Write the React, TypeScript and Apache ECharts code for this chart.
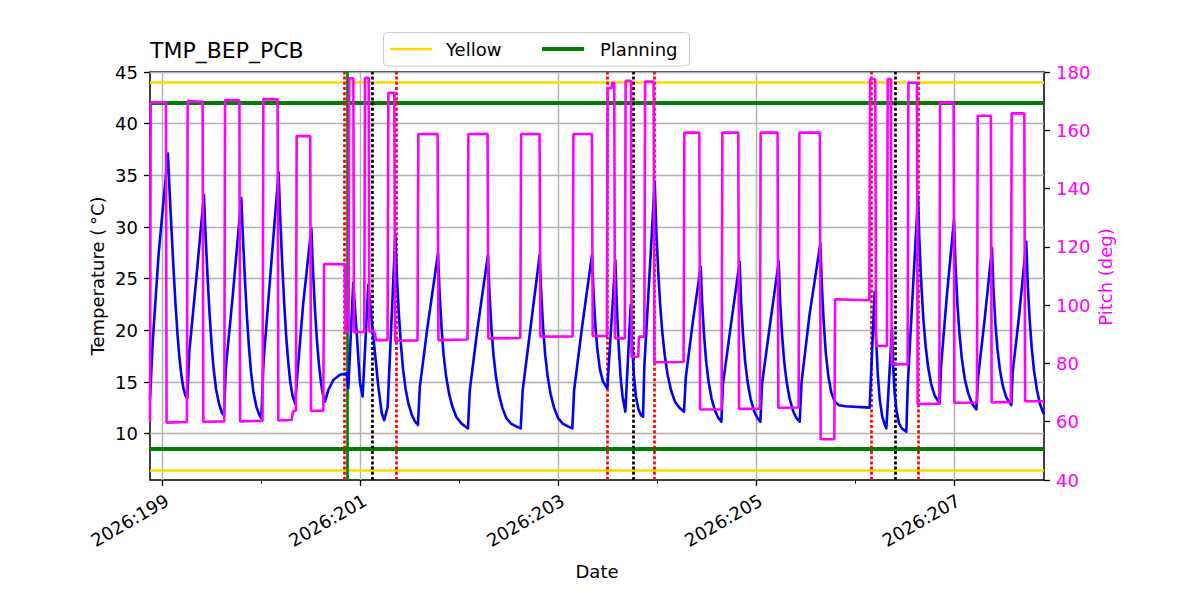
import React, { useEffect, useRef } from "react";
import * as echarts from "echarts";

// ---- axis ranges (day-of-year 2026, fractional) ----
const X_MIN = 198.872;
const X_MAX = 207.911;
const majorDays = [199, 201, 203, 205, 207];
const minorDays = [200, 202, 204, 206];
const TEMP_MIN = 5.52;
const TEMP_MAX = 45;
const tempTicks = [10, 15, 20, 25, 30, 35, 40, 45];
const PITCH_MIN = 40;
const PITCH_MAX = 180;
const PITCH_STEP = 20;

// ---- limits (deg C) ----
const yellowLimits = [44, 6.5];
const planningLimits = [42, 8.5];

// ---- event markers (day-of-year) ----
const redEvents = [200.836, 201.362, 203.495, 203.971, 206.155, 206.64];
const blackEvents = [201.119, 203.758, 206.408];
const greenEvents = [200.874];

// ---- TMP_BEP_PCB temperature (deg C), one row per heating / cooling leg ----
const tempDay = [
  198.872, 198.9, 198.96, 199.053,
  199.07, 199.09, 199.11, 199.13, 199.15, 199.17, 199.19, 199.21, 199.23, 199.249,
  199.27, 199.34, 199.417,
  199.435, 199.455, 199.475, 199.495, 199.515, 199.54, 199.57, 199.6, 199.619,
  199.64, 199.71, 199.795,
  199.813, 199.833, 199.853, 199.873, 199.893, 199.918, 199.948, 199.978, 199.997,
  200.02, 200.09, 200.172,
  200.19, 200.21, 200.23, 200.25, 200.27, 200.29, 200.315, 200.34,
  200.36, 200.42, 200.503,
  200.52, 200.54, 200.56, 200.58, 200.6, 200.62, 200.641,
  200.674, 200.725, 200.793, 200.86, 200.877, 200.927, 200.962, 200.995, 201.022, 201.079,
  201.13, 201.18, 201.215, 201.24, 201.275, 201.352,
  201.37, 201.39, 201.41, 201.43, 201.455, 201.485, 201.52, 201.55, 201.581,
  201.6, 201.68, 201.784,
  201.8, 201.82, 201.84, 201.865, 201.895, 201.93, 201.97, 202.02, 202.06, 202.087,
  202.105, 202.185, 202.289,
  202.305, 202.325, 202.345, 202.37, 202.4, 202.435, 202.475, 202.525, 202.575, 202.62,
  202.64, 202.72, 202.812,
  202.828, 202.848, 202.868, 202.893, 202.923, 202.958, 202.998, 203.048, 203.098, 203.142,
  203.16, 203.24, 203.341,
  203.357, 203.377, 203.397, 203.42, 203.45, 203.48, 203.496,
  203.577, 203.59, 203.61, 203.63, 203.65, 203.678,
  203.732, 203.745, 203.765, 203.785, 203.81, 203.835, 203.857,
  203.87, 203.92, 203.975,
  203.99, 204.01, 204.03, 204.05, 204.075, 204.105, 204.14, 204.18, 204.225, 204.271,
  204.29, 204.36, 204.44,
  204.455, 204.475, 204.495, 204.52, 204.55, 204.585, 204.62, 204.649,
  204.665, 204.745, 204.834,
  204.849, 204.869, 204.889, 204.914, 204.944, 204.979, 205.014, 205.043,
  205.06, 205.14, 205.229,
  205.244, 205.264, 205.284, 205.309, 205.339, 205.374, 205.409, 205.441,
  205.46, 205.54, 205.65,
  205.665, 205.685, 205.705, 205.73, 205.76, 205.795, 205.84, 205.9, 206.148,
  206.199, 206.212, 206.23, 206.25, 206.275, 206.3, 206.317,
  206.374, 206.385, 206.4, 206.42, 206.445, 206.475, 206.519,
  206.535, 206.58, 206.637,
  206.652, 206.672, 206.692, 206.715, 206.74, 206.77, 206.805, 206.856,
  206.87, 206.93, 207.001,
  207.016, 207.036, 207.056, 207.08, 207.11, 207.145, 207.185, 207.227,
  207.245, 207.31, 207.385,
  207.4, 207.42, 207.44, 207.465, 207.495, 207.53, 207.58,
  207.595, 207.66, 207.732,
  207.747, 207.767, 207.787, 207.81, 207.84, 207.87, 207.9, 207.911,
];
const tempC = [
  13.3, 19.0, 27.5, 37.1,
  33.5, 29.6, 25.9, 22.5, 19.6, 17.3, 15.6, 14.4, 13.7, 13.4,
  18.0, 25.0, 33.1,
  29.0, 25.0, 21.5, 18.6, 16.3, 14.3, 12.9, 12.0, 11.8,
  16.5, 23.5, 32.8,
  28.7, 24.7, 21.2, 18.3, 16.0, 14.0, 12.6, 11.8, 11.5,
  17.0, 25.5, 35.3,
  30.6, 26.2, 22.4, 19.3, 16.9, 15.0, 13.6, 12.9,
  15.5, 22.5, 29.9,
  25.8, 22.0, 19.0, 16.7, 15.0, 13.8, 13.1,
  14.2, 15.2, 15.7, 15.85, 14.4, 24.6, 19.7, 14.9, 13.6, 24.4,
  19.4, 14.6, 12.0, 11.3, 12.6, 29.2,
  24.9, 21.3, 18.5, 16.3, 14.4, 12.9, 11.8, 11.2, 10.84,
  14.5, 20.5, 27.45,
  23.6, 20.2, 17.7, 15.6, 13.9, 12.6, 11.6, 11.0, 10.7, 10.52,
  14.2, 20.3, 27.3,
  23.5, 20.1, 17.6, 15.5, 13.8, 12.5, 11.5, 10.95, 10.7, 10.52,
  14.2, 20.3, 27.3,
  23.5, 20.1, 17.6, 15.5, 13.8, 12.5, 11.5, 10.95, 10.7, 10.52,
  14.2, 20.3, 27.3,
  23.5, 20.2, 18.0, 16.3, 15.1, 14.6, 14.4,
  26.8, 22.9, 18.6, 15.5, 13.6, 12.13,
  22.45, 18.9, 15.6, 13.6, 12.4, 11.8, 11.65,
  16.5, 25.0, 34.4,
  30.0, 25.8, 22.5, 20.0, 17.7, 15.7, 14.2, 13.1, 12.5, 12.13,
  15.5, 20.8, 26.16,
  22.6, 19.4, 17.0, 15.0, 13.4, 12.2, 11.5, 11.16,
  14.8, 20.5, 26.65,
  22.6, 19.4, 17.0, 15.0, 13.4, 12.2, 11.5, 11.16,
  14.8, 20.5, 26.65,
  22.6, 19.4, 17.0, 15.0, 13.4, 12.2, 11.5, 11.16,
  15.0, 21.5, 28.42,
  24.3, 20.6, 17.8, 15.6, 14.0, 13.1, 12.75, 12.65, 12.52,
  23.74, 19.5, 15.8, 13.3, 11.7, 10.9, 10.52,
  20.2, 16.8, 14.0, 12.2, 11.0, 10.5, 10.2,
  15.0, 23.0, 32.94,
  28.4, 24.2, 21.0, 18.4, 16.4, 14.8, 13.7, 12.94,
  16.5, 23.5, 30.68,
  26.3, 22.5, 19.7, 17.3, 15.3, 13.9, 12.9, 12.35,
  15.5, 21.0, 27.94,
  24.0, 20.6, 18.2, 16.2, 14.6, 13.5, 12.77,
  16.0, 21.5, 28.58,
  24.4, 20.9, 18.3, 16.1, 14.2, 12.9, 12.1, 11.9,
];

// ---- spacecraft pitch (deg) ----
const pitchDay = [
  198.872, 198.879, 199.033, 199.04, 199.245, 199.253, 199.404, 199.411, 199.623, 199.631,
  199.776, 199.783, 200.01, 200.018, 200.162, 200.17, 200.305, 200.318, 200.347, 200.355,
  200.492, 200.5, 200.624, 200.632, 200.842, 200.848, 200.88, 200.886, 200.928, 200.934,
  201.038, 201.046, 201.083, 201.089, 201.14, 201.157, 201.274, 201.282, 201.342, 201.35,
  201.577, 201.585, 201.78, 201.788, 202.083, 202.091, 202.285, 202.293, 202.616, 202.624,
  202.811, 202.819, 203.145, 203.153, 203.34, 203.348, 203.491, 203.499, 203.538, 203.545,
  203.566, 203.573, 203.673, 203.681, 203.735, 203.741, 203.808, 203.816, 203.87, 203.878,
  203.964, 203.972, 204.267, 204.275, 204.426, 204.434, 204.651, 204.659, 204.82, 204.828,
  205.038, 205.046, 205.217, 205.225, 205.43, 205.438, 205.645, 205.653, 205.791, 205.799,
  206.145, 206.153, 206.205, 206.213, 206.323, 206.331, 206.363, 206.371, 206.532, 206.54,
  206.626, 206.634, 206.852, 206.86, 206.997, 207.005, 207.233, 207.241, 207.374, 207.382,
  207.576, 207.584, 207.712, 207.72, 207.911,
];
const pitchDeg = [
  60.0, 169.6, 169.6, 59.7, 59.9, 170.0, 169.8, 60.0, 60.1, 170.4,
  170.3, 60.1, 60.3, 170.7, 170.6, 60.4, 60.6, 63.7, 63.8, 158.0,
  158.0, 63.7, 63.8, 114.1, 114.0, 91.0, 91.0, 177.8, 177.8, 90.7,
  90.8, 178.0, 178.0, 91.0, 91.0, 88.0, 88.0, 172.9, 172.9, 87.8,
  87.9, 158.7, 158.7, 88.0, 88.2, 158.7, 158.7, 88.6, 88.7, 158.7,
  158.7, 89.2, 89.3, 158.7, 158.7, 89.4, 89.4, 174.4, 174.4, 176.3,
  176.3, 88.6, 88.6, 177.0, 177.0, 82.3, 82.3, 89.2, 89.2, 176.7,
  176.7, 80.4, 80.5, 159.2, 159.2, 64.2, 64.3, 159.2, 159.2, 64.4,
  64.5, 159.2, 159.2, 64.8, 64.9, 159.2, 159.2, 54.0, 54.0, 102.0,
  101.7, 177.5, 177.5, 86.0, 86.0, 177.6, 177.6, 79.7, 79.7, 176.3,
  176.3, 66.1, 66.2, 169.5, 169.5, 66.5, 66.6, 165.0, 165.0, 66.6,
  66.8, 165.8, 165.8, 67.0, 67.0,
];

const FONT = '"DejaVu Sans", "Liberation Sans", sans-serif';
const BLUE = "#0000ff";
const MAGENTA = "#ff00ff";
const YELLOW = "#ffd700";
const GREEN = "#008000";
const GRID_GRAY = "#b0b0b0";
const DOTTED: number[] = [3, 2.2];

const zip = (xs: number[], ys: number[]) => xs.map((x, i) => [x, ys[i]]);

export default function App() {
  const ref = useRef<HTMLDivElement>(null);

  useEffect(() => {
    if (!ref.current) return;
    const chart = echarts.init(ref.current, undefined, { renderer: "svg" });

    const limitLines = [
      ...yellowLimits.map((v) => ({ yAxis: v, lineStyle: { color: YELLOW, width: 2.7, type: "solid" } })),
      ...planningLimits.map((v) => ({ yAxis: v, lineStyle: { color: GREEN, width: 4, type: "solid" } })),
    ];
    const eventLines = [
      ...greenEvents.map((v) => ({ xAxis: v, lineStyle: { color: GREEN, width: 2.7, type: "solid" } })),
      ...redEvents.map((v) => ({ xAxis: v, lineStyle: { color: "#ff0000", width: 2.7, type: DOTTED } })),
      ...blackEvents.map((v) => ({ xAxis: v, lineStyle: { color: "#000000", width: 2.7, type: DOTTED } })),
    ];

    const tickStyle = { color: "#000", width: 1.3 };
    const labelBase = { fontFamily: FONT, fontSize: 18, color: "#000" };
    const textStyle = (align: string, fill = "#000", size = 18) => ({
      font: `${size}px ${FONT}`,
      fill,
      align,
      verticalAlign: "middle",
      textAlign: align,
      textVerticalAlign: "middle",
    });

    chart.setOption({
      animation: false,
      tooltip: { show: false },
      grid: {
        left: 150,
        right: 156,
        top: 72,
        bottom: 120,
        show: true,
        borderColor: "#000",
        borderWidth: 1.5,
        backgroundColor: "transparent",
        containLabel: false,
        outerBoundsMode: "none",
      },
      xAxis: [
        {
          type: "value",
          position: "bottom",
          min: X_MIN,
          max: X_MAX,
          axisLine: { show: false },
          axisTick: { show: true, customValues: majorDays, length: 6, lineStyle: tickStyle },
          axisLabel: {
            ...labelBase,
            customValues: majorDays,
            formatter: (v: number) => `2026:${Math.round(v)}`,
            rotate: 30,
            align: "right",
            verticalAlign: "top",
            margin: 11,
          },
          splitLine: { show: true, lineStyle: { color: GRID_GRAY, width: 1.4 } },
        },
        {
          type: "value",
          position: "bottom",
          min: X_MIN,
          max: X_MAX,
          axisLine: { show: false },
          axisTick: { show: true, customValues: minorDays, length: 3.6, lineStyle: { color: "#000", width: 1 } },
          axisLabel: { show: false },
          splitLine: { show: false },
        },
      ],
      yAxis: [
        {
          type: "value",
          position: "left",
          min: TEMP_MIN,
          max: TEMP_MAX,
          axisLine: { show: false },
          axisTick: { show: true, customValues: tempTicks, length: 6, lineStyle: tickStyle },
          axisLabel: { ...labelBase, customValues: tempTicks, margin: 12 },
          splitLine: { show: true, lineStyle: { color: GRID_GRAY, width: 1.4 } },
        },
        {
          type: "value",
          position: "right",
          min: PITCH_MIN,
          max: PITCH_MAX,
          interval: PITCH_STEP,
          axisLine: { show: false },
          axisTick: { show: true, length: 6, lineStyle: tickStyle },
          axisLabel: { ...labelBase, color: MAGENTA, margin: 12 },
          splitLine: { show: false },
        },
      ],
      series: [
        {
          name: "TMP_BEP_PCB",
          type: "line",
          xAxisIndex: 0,
          yAxisIndex: 0,
          data: zip(tempDay, tempC),
          showSymbol: false,
          symbol: "none",
          z: 3,
          lineStyle: { color: BLUE, width: 2.6, join: "round" },
          emphasis: { disabled: true },
          markLine: {
            silent: true,
            symbol: ["none", "none"],
            label: { show: false },
            emphasis: { disabled: true },
            animation: false,
            z: 2,
            data: [...limitLines, ...eventLines],
          },
        },
        {
          name: "Pitch",
          type: "line",
          xAxisIndex: 0,
          yAxisIndex: 1,
          data: zip(pitchDay, pitchDeg),
          showSymbol: false,
          symbol: "none",
          z: 4,
          lineStyle: { color: MAGENTA, width: 2.6 },
          emphasis: { disabled: true },
        },
      ],
      graphic: [
        { type: "text", x: 150, y: 50, style: { text: "TMP_BEP_PCB", ...textStyle("left", "#000", 22) } },
        {
          type: "rect",
          shape: { x: 383.5, y: 32.5, width: 306, height: 33.5, r: 4 },
          style: { fill: "rgba(255,255,255,0.8)", stroke: "#cccccc", lineWidth: 1 },
        },
        { type: "line", shape: { x1: 390, y1: 49, x2: 432, y2: 49 }, style: { stroke: YELLOW, lineWidth: 2.7 } },
        { type: "text", x: 446, y: 49, style: { text: "Yellow", ...textStyle("left") } },
        { type: "line", shape: { x1: 542, y1: 49, x2: 584, y2: 49 }, style: { stroke: GREEN, lineWidth: 4 } },
        { type: "text", x: 600, y: 49, style: { text: "Planning", ...textStyle("left") } },
        { type: "text", x: 597, y: 571, style: { text: "Date", ...textStyle("center") } },
        {
          type: "text",
          x: 97,
          y: 276,
          rotation: Math.PI / 2,
          style: { text: "Temperature (\u2009°C)", ...textStyle("center") },
        },
        {
          type: "text",
          x: 1105,
          y: 277,
          rotation: Math.PI / 2,
          style: { text: "Pitch (deg)", ...textStyle("center", MAGENTA) },
        },
      ],
    });

    return () => chart.dispose();
  }, []);

  return (
    <div
      ref={ref}
      style={{ position: "absolute", left: 0, top: 0, width: 1200, height: 600, background: "#fff" }}
    />
  );
}
